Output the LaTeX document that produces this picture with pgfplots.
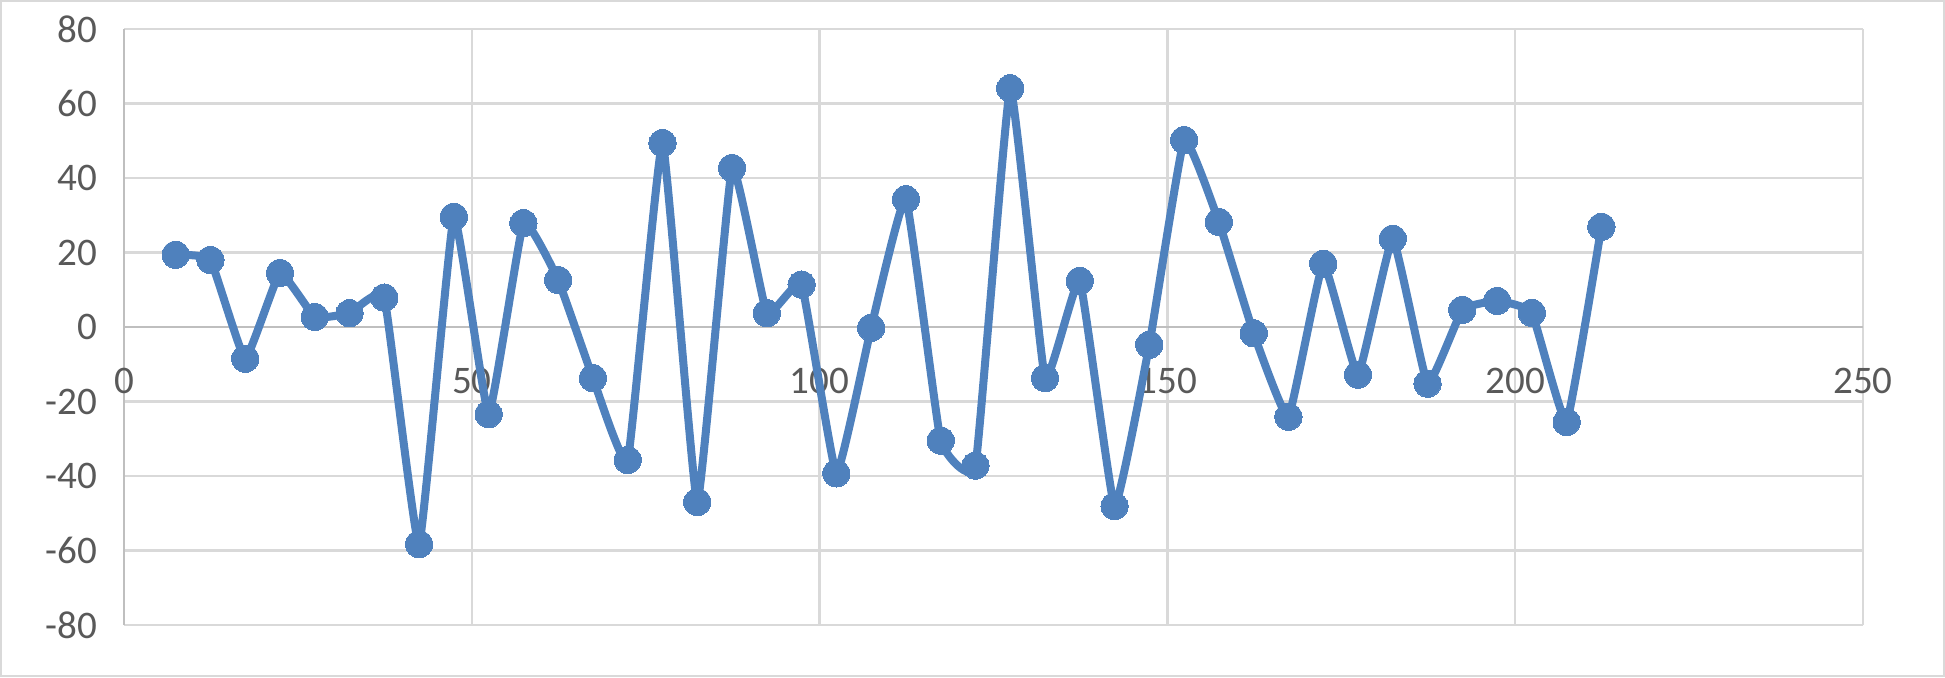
\documentclass[border=0pt]{standalone}
\usepackage{fontspec}
\setmainfont{Carlito}
\usepackage{pgfplots}
\pgfplotsset{compat=1.18}
\definecolor{serieblue}{HTML}{4F81BD}
\definecolor{gridgray}{HTML}{D9D9D9}
\definecolor{zerogray}{HTML}{BFBFBF}
\definecolor{labelgray}{HTML}{595959}

\begin{document}
\begin{tikzpicture}
\begin{axis}[
  name=ax,
  width=868pt, height=297.5pt, scale only axis,
  xmin=0, xmax=250, ymin=-80, ymax=80,
  xtick={0,50,...,250}, ytick={-80,-60,...,80},
  axis lines=middle,
  axis line style={-, zerogray, line width=1.2pt},
  hide obscured x ticks=false, hide obscured y ticks=false,
  major tick length=0pt,
  grid=major,
  major grid style={gridgray, line width=1.2pt},
  ticklabel style={font=\fontsize{19.5}{22}\selectfont, text=labelgray},
  /pgf/number format/assume math mode=true,
  xticklabel style={yshift=-17pt},
  yticklabel style={xshift=-10pt},
  clip=false,
]
% smoothed line with round markers
\addplot[serieblue, line width=4pt, smooth, tension=0.2,
  mark=*, mark size=6.8pt, mark options={fill=serieblue, draw=serieblue, line width=0pt}]
  coordinates {
  (7.4,19.4) (12.4,18.0) (17.4,-8.5) (22.4,14.5) (27.4,2.7) (32.4,3.7)
  (37.4,7.9) (42.4,-58.3) (47.4,29.6) (52.4,-23.4) (57.4,27.9) (62.4,12.6)
  (67.4,-13.7) (72.4,-35.7) (77.4,49.4) (82.4,-47.0) (87.4,42.7) (92.4,3.7)
  (97.4,11.4) (102.4,-39.3) (107.4,-0.2) (112.4,34.3) (117.4,-30.5) (122.4,-37.2)
  (127.4,64.1) (132.4,-13.7) (137.4,12.4) (142.4,-48.1) (147.4,-4.75) (152.4,50.2)
  (157.4,28.2) (162.4,-1.7) (167.4,-24.1) (172.4,17.0) (177.4,-12.8) (182.4,23.7)
  (187.4,-15.2) (192.4,4.6) (197.4,7.0) (202.4,3.8) (207.4,-25.5) (212.4,26.9)
  };
\end{axis}
% chart area border
\draw[gridgray, line width=1pt] ([xshift=-61.5pt,yshift=-25.5pt]ax.south west)
  rectangle ([xshift=40.5pt,yshift=14pt]ax.north east);
\end{tikzpicture}
\end{document}
